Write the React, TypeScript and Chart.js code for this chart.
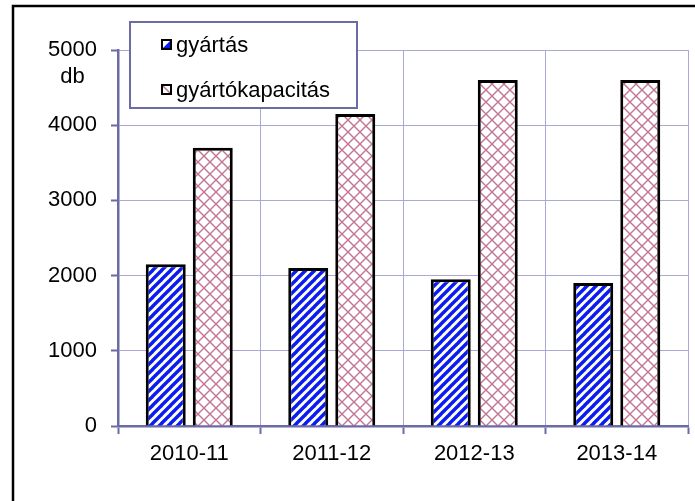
import React, { useEffect, useRef } from "react";
import { Chart, registerables } from "chart.js";

Chart.register(...registerables);

const categories = ["2010-11", "2011-12", "2012-13", "2013-14"];
const seriesNames = ["gyártás", "gyártókapacitás"];
const gyartas = [2150, 2100, 1950, 1900];
const kapacitas = [3700, 4150, 4600, 4600];
const yMin = 0;
const yMax = 5000;
const yStep = 1000;
const yUnit = "db";

const FONT = "Arial, 'Liberation Sans', sans-serif";
const FONT_SIZE = 22;
const GRID = "#a9a9d6";
const AXIS = "#6b6ba6";

function stripePattern(ctx: CanvasRenderingContext2D) {
  const c = document.createElement("canvas");
  const s = 9;
  c.width = s;
  c.height = s;
  const g = c.getContext("2d")!;
  g.fillStyle = "#ffffff";
  g.fillRect(0, 0, s, s);
  g.strokeStyle = "#0a1cf0";
  g.lineWidth = 3.4;
  for (const o of [-s, 0, s]) {
    g.beginPath();
    g.moveTo(o - 1, s + 1);
    g.lineTo(o + s + 1, -1);
    g.stroke();
  }
  return ctx.createPattern(c, "repeat")!;
}

function crossPattern(ctx: CanvasRenderingContext2D) {
  const c = document.createElement("canvas");
  const s = 12;
  c.width = s;
  c.height = s;
  const g = c.getContext("2d")!;
  g.fillStyle = "#ffffff";
  g.fillRect(0, 0, s, s);
  g.strokeStyle = "#c27592";
  g.lineWidth = 1.4;
  g.beginPath();
  g.moveTo(0, 0);
  g.lineTo(s, s);
  g.moveTo(0, s);
  g.lineTo(s, 0);
  g.stroke();
  return ctx.createPattern(c, "repeat")!;
}

const decorPlugin = {
  id: "decor",
  afterDraw(chart: any) {
    const ctx: CanvasRenderingContext2D = chart.ctx;
    const y = chart.scales.y;
    ctx.save();
    // outer frame
    ctx.strokeStyle = "#000";
    ctx.lineWidth = 2.5;
    ctx.beginPath();
    ctx.moveTo(13, 501);
    ctx.lineTo(13, 6);
    ctx.lineTo(695, 6);
    ctx.stroke();

    // unit label under the top tick
    ctx.font = `${FONT_SIZE}px ${FONT}`;
    ctx.fillStyle = "#000";
    const topLabel = String(yMax);
    const labelRight = y.right - 7 - 14;
    const w = ctx.measureText(topLabel).width;
    ctx.textAlign = "center";
    ctx.textBaseline = "alphabetic";
    ctx.fillText(yUnit, labelRight - w / 2, y.getPixelForValue(yMax) + 33);

    // legend
    const bx = 130, by = 22, bw = 227, bh = 86;
    ctx.fillStyle = "#fff";
    ctx.fillRect(bx, by, bw, bh);
    ctx.strokeStyle = AXIS;
    ctx.lineWidth = 2;
    ctx.strokeRect(bx, by, bw, bh);
    const baselines = [by + 30, by + 75];
    seriesNames.forEach((name, i) => {
      const base = baselines[i];
      const sx = 162, sz = 9;
      const sy = base - 12;
      ctx.fillStyle = "#fff";
      ctx.fillRect(sx, sy, sz, sz);
      if (i === 0) {
        ctx.fillStyle = "#0a1cf0";
        ctx.beginPath();
        ctx.moveTo(sx + sz, sy);
        ctx.lineTo(sx + sz, sy + sz);
        ctx.lineTo(sx, sy + sz);
        ctx.closePath();
        ctx.fill();
      } else {
        ctx.strokeStyle = "#c27592";
        ctx.lineWidth = 1.5;
        ctx.beginPath();
        ctx.moveTo(sx, sy);
        ctx.lineTo(sx + sz, sy + sz);
        ctx.stroke();
      }
      ctx.strokeStyle = "#000";
      ctx.lineWidth = 2;
      ctx.strokeRect(sx, sy, sz, sz);
      ctx.fillStyle = "#000";
      ctx.textAlign = "left";
      ctx.textBaseline = "alphabetic";
      ctx.fillText(name, 176, base);
    });
    ctx.restore();
  },
};

export default function App() {
  const ref = useRef<HTMLCanvasElement>(null);
  useEffect(() => {
    document.body.style.margin = "0";
    const canvas = ref.current!;
    const ctx = canvas.getContext("2d")!;
    const chart = new Chart(ctx, {
      type: "bar",
      data: {
        labels: categories,
        datasets: [
          {
            label: seriesNames[0],
            data: gyartas,
            backgroundColor: stripePattern(ctx),
            borderColor: "#000",
            borderWidth: 3,
            categoryPercentage: 0.66,
            barPercentage: 0.85,
          },
          {
            label: seriesNames[1],
            data: kapacitas,
            backgroundColor: crossPattern(ctx),
            borderColor: "#000",
            borderWidth: 3,
            categoryPercentage: 0.66,
            barPercentage: 0.85,
          },
        ],
      },
      options: {
        responsive: false,
        animation: false,
        devicePixelRatio: 1,
        layout: { padding: { top: 50, right: 7, left: 0, bottom: 0 } },
        plugins: {
          legend: { display: false },
          tooltip: { enabled: false },
        },
        scales: {
          x: {
            grid: {
              offset: true,
              color: GRID,
              lineWidth: 1,
              tickLength: 8,
              tickColor: AXIS,
              tickWidth: 2,
            },
            border: { color: AXIS, width: 2.5 },
            ticks: {
              color: "#000",
              font: { family: FONT, size: FONT_SIZE },
              padding: 7,
            },
            afterFit: (s: any) => {
              s.height = 75;
            },
          },
          y: {
            min: yMin,
            max: yMax,
            grid: {
              color: GRID,
              lineWidth: 1,
              tickLength: 7,
              tickColor: AXIS,
              tickWidth: 2,
            },
            border: { color: AXIS, width: 2.5 },
            ticks: {
              stepSize: yStep,
              color: "#000",
              font: { family: FONT, size: FONT_SIZE },
              padding: 14,
              callback: (v: any) => String(v),
            },
            afterFit: (s: any) => {
              s.width = 118;
            },
          },
        },
      },
      plugins: [decorPlugin],
    });
    return () => chart.destroy();
  }, []);
  return <canvas ref={ref} width={695} height={501} style={{ display: "block" }} />;
}
